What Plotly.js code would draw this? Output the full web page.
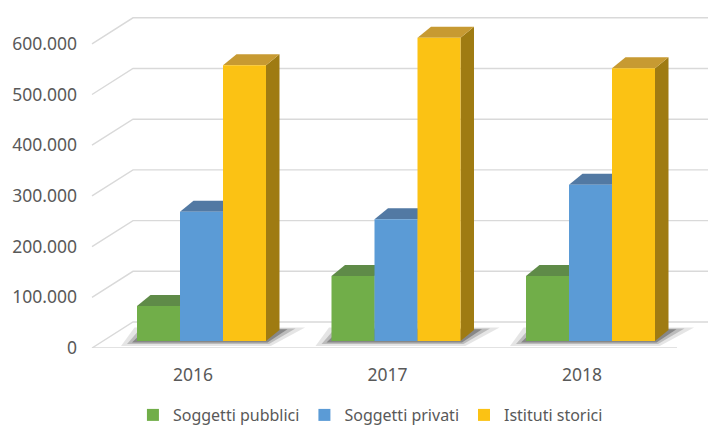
<!DOCTYPE html>
<html><head><meta charset="utf-8">
<script src="https://cdn.plot.ly/plotly-3.0.1.min.js"></script>
<style>html,body{margin:0;padding:0;background:#fff;} #chart{width:708px;height:427px;}</style>
</head><body><div id="chart"></div>
<script>
// ---- data ----
const categories = ['2016', '2017', '2018'];
const seriesNames = ['Soggetti pubblici', 'Soggetti privati', 'Istituti storici'];
const soggettiPubblici = [69000, 128000, 128000];
const soggettiPrivati = [255000, 240000, 308000];
const istitutiStorici = [544000, 598000, 538000];
const yTickValues = [0, 100000, 200000, 300000, 400000, 500000, 600000];
const yTickLabels = ['0', '100.000', '200.000', '300.000', '400.000', '500.000', '600.000'];

// ---- style / geometry ----
const W = 708, H = 427;
const mL = 92, mR = 0, mT = 10, mB = 79;
const plotW = W - mL - mR, plotH = H - mT - mB;
const pxPerCat = 194.5;
const xMin = -0.563, xMax = xMin + plotW / pxPerCat;
const pxPerVal = 0.000507;
const yMax = plotH / pxPerVal;
const baseLift = 7;                 // bar plane above front floor edge (px)
const y2Range = [-baseLift / pxPerVal, (plotH - baseLift) / pxPerVal];
const gridBackDx = 41, gridBackDy = 26; // px
const floorFrontEnd = 585;          // px from plot left
const barW = 43 / pxPerCat;
const depthX = 13.5 / pxPerCat, depthY = 11 / pxPerVal;
const labelShift = -0.044;
const gridColor = '#d9d9d9';
const textColor = '#595959';
const font = 'Noto Sans, Open Sans, sans-serif';
const fontSize = 17.5;
const legendFontSize = 16;

const seriesValues = [soggettiPubblici, soggettiPrivati, istitutiStorici];
const frontColors = ['#71ae49', '#5b9bd6', '#fbc214'];
const topColors = ['#5f8b48', '#5279a3', '#c79a32'];
const sideColors = ['#4f7a37', '#3f6a96', '#9f7b12'];

const xIdx = categories.map((c, i) => i);

const traces = seriesValues.map((vals, s) => ({
  type: 'bar',
  name: seriesNames[s],
  x: xIdx,
  y: vals,
  yaxis: 'y2',
  width: barW,
  offset: -1.5 * barW + s * barW,
  marker: {color: frontColors[s], line: {width: 0}},
  hoverinfo: 'skip'
}));

const shapes = [];
// back-wall gridlines (oblique)
const bx = gridBackDx / plotW;
const bdy = gridBackDy / pxPerVal;
yTickValues.forEach(v => {
  shapes.push({
    type: 'path', xref: 'paper', yref: 'y', layer: 'below',
    path: `M 0,${v} L ${bx},${v + bdy} L 1,${v + bdy}`,
    line: {color: gridColor, width: 1.4}
  });
});
// floor front edge
shapes.push({
  type: 'line', xref: 'paper', yref: 'y', layer: 'below',
  x0: 0, x1: floorFrontEnd / plotW, y0: 0, y1: 0,
  line: {color: gridColor, width: 1.4}
});
// shadows
xIdx.forEach(i => {
  const L = i - 1.5 * barW, R = i + 1.5 * barW;
  const sx = 1 / pxPerCat, sy = 1 / pxPerVal;
  [[16, 5, 'rgba(0,0,0,0.10)'], [10, 3, 'rgba(0,0,0,0.18)'], [5, 1.5, 'rgba(0,0,0,0.28)']].forEach(([ex, ey, col]) => {
    shapes.push({
      type: 'path', xref: 'x', yref: 'y2', layer: 'below',
      path: `M ${L - ex * sx},${-ey * sy} L ${R + ex * 0.3 * sx},${-ey * sy} L ${R + depthX + ex * 1.6 * sx},${depthY + ey * 0.5 * sy} L ${L + depthX - ex * sx},${depthY + ey * 0.5 * sy} Z`,
      fillcolor: col, line: {width: 0}
    });
  });
});
// 3D faces
seriesValues.forEach((vals, s) => {
  vals.forEach((v, i) => {
    const L = i - 1.5 * barW + s * barW, R = L + barW;
    shapes.push({
      type: 'path', xref: 'x', yref: 'y2', layer: 'below',
      path: `M ${R},0 L ${R},${v} L ${R + depthX},${v + depthY} L ${R + depthX},${depthY} Z`,
      fillcolor: sideColors[s], line: {width: 0}
    });
    shapes.push({
      type: 'path', xref: 'x', yref: 'y2', layer: 'below',
      path: `M ${L},${v} L ${L + depthX},${v + depthY} L ${R + depthX},${v + depthY} L ${R},${v} Z`,
      fillcolor: topColors[s], line: {width: 0}
    });
  });
});

const layout = {
  width: W, height: H,
  margin: {l: mL, r: mR, t: mT, b: mB, pad: 0, autoexpand: false},
  paper_bgcolor: '#ffffff', plot_bgcolor: 'rgba(0,0,0,0)',
  barmode: 'overlay',
  showlegend: true,
  legend: {
    orientation: 'h', x: 0.452, xanchor: 'center', y: (plotH - (415 - mT)) / plotH, yanchor: 'middle',
    font: {family: font, size: legendFontSize, color: textColor}, traceorder: 'normal',
    itemwidth: 30, tracegroupgap: 0
  },
  xaxis: {
    range: [xMin, xMax], showgrid: false, zeroline: false, showline: false,
    tickmode: 'array', tickvals: xIdx.map(i => i + labelShift), ticktext: categories,
    ticks: '', ticklabelstandoff: 14,
    tickfont: {family: font, size: fontSize, color: textColor}, fixedrange: true
  },
  yaxis: {
    range: [0, yMax], showgrid: false, zeroline: false, showline: false,
    tickmode: 'array', tickvals: yTickValues, ticktext: yTickLabels,
    ticks: '', ticklabelstandoff: 14,
    tickfont: {family: font, size: fontSize, color: textColor}, fixedrange: true
  },
  yaxis2: {
    range: y2Range, overlaying: 'y', visible: false, fixedrange: true
  },
  shapes: shapes
};

Plotly.newPlot('chart', traces, layout, {displayModeBar: false, staticPlot: true});
</script>
</body></html>
